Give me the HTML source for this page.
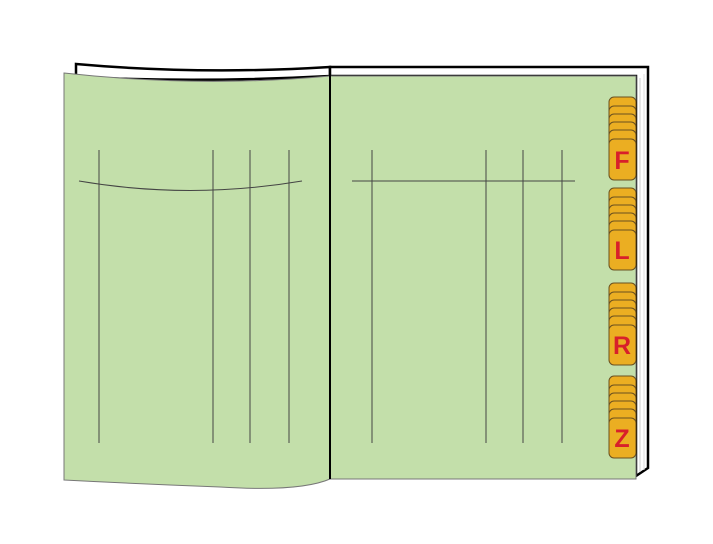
<!DOCTYPE html>
<html><head><meta charset="utf-8"><style>html,body{margin:0;padding:0;background:#fff}svg{display:block}</style></head>
<body>
<svg width="713" height="544" viewBox="0 0 713 544" xmlns="http://www.w3.org/2000/svg">
<path d="M76,64 Q200,75 330,67 L330,76 Q200,83 76,77 Z" fill="#fff" stroke="#000" stroke-width="2.5"/>
<path d="M330,67 L648,67 L648,468 L636,476 L636,76 L330,76 Z" fill="#fff" stroke="#000" stroke-width="2.5"/>
<line x1="640" y1="78" x2="640" y2="472" stroke="#ccc" stroke-width="1"/>
<line x1="644" y1="74" x2="644" y2="470" stroke="#ddd" stroke-width="1"/>
<rect x="330" y="76" width="306" height="403" fill="#c3dfaa" stroke="#777" stroke-width="1"/>
<path d="M64,73 Q200,88 330,76 L330,479 Q300,492 220,487 Q140,484 64,480 Z" fill="#c3dfaa" stroke="#777" stroke-width="1"/>
<line x1="330" y1="67" x2="330" y2="479" stroke="#000" stroke-width="2"/>
<g stroke="#444" stroke-width="1" fill="none">
<line x1="99" y1="150" x2="99" y2="443"/><line x1="213" y1="150" x2="213" y2="443"/>
<line x1="250" y1="150" x2="250" y2="443"/><line x1="289" y1="150" x2="289" y2="443"/>
<path d="M79,181 Q190,200 302,181"/>
<line x1="372" y1="150" x2="372" y2="443"/><line x1="486" y1="150" x2="486" y2="443"/>
<line x1="523" y1="150" x2="523" y2="443"/><line x1="562" y1="150" x2="562" y2="443"/>
<line x1="352" y1="181" x2="575" y2="181"/>
</g>
<g stroke="#6a5020" stroke-width="1" fill="#ebae22" font-family="Liberation Sans, sans-serif" font-weight="bold" font-size="25">
<g><rect x="609" y="97" width="27" height="40" rx="5"/><rect x="609" y="106" width="27" height="40" rx="5"/><rect x="609" y="114" width="27" height="40" rx="5"/><rect x="609" y="122" width="27" height="40" rx="5"/><rect x="609" y="130" width="27" height="40" rx="5"/><rect x="609" y="139" width="27" height="41" rx="5"/><text x="622" y="169" text-anchor="middle" fill="#d8202a" stroke="none">F</text></g>
<g><rect x="609" y="188" width="27" height="40" rx="5"/><rect x="609" y="197" width="27" height="40" rx="5"/><rect x="609" y="205" width="27" height="40" rx="5"/><rect x="609" y="213" width="27" height="40" rx="5"/><rect x="609" y="221" width="27" height="40" rx="5"/><rect x="609" y="230" width="27" height="40" rx="5"/><text x="622" y="259" text-anchor="middle" fill="#d8202a" stroke="none">L</text></g>
<g><rect x="609" y="283" width="27" height="40" rx="5"/><rect x="609" y="292" width="27" height="40" rx="5"/><rect x="609" y="300" width="27" height="40" rx="5"/><rect x="609" y="308" width="27" height="40" rx="5"/><rect x="609" y="316" width="27" height="40" rx="5"/><rect x="609" y="325" width="27" height="40" rx="5"/><text x="622" y="354" text-anchor="middle" fill="#d8202a" stroke="none">R</text></g>
<g><rect x="609" y="376" width="27" height="40" rx="5"/><rect x="609" y="385" width="27" height="40" rx="5"/><rect x="609" y="393" width="27" height="40" rx="5"/><rect x="609" y="401" width="27" height="40" rx="5"/><rect x="609" y="409" width="27" height="40" rx="5"/><rect x="609" y="418" width="27" height="40" rx="5"/><text x="622" y="447" text-anchor="middle" fill="#d8202a" stroke="none">Z</text></g>
</g>
</svg>
</body></html>
